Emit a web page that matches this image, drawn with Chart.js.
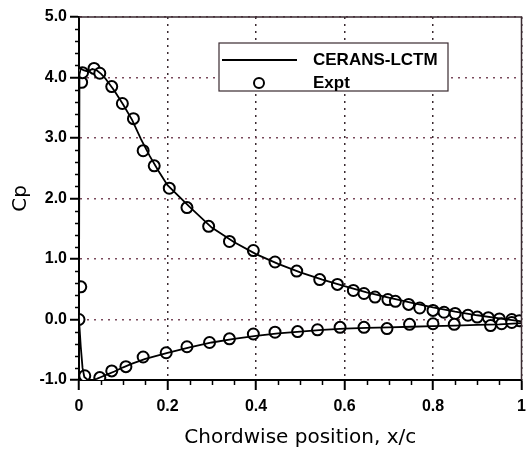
<!DOCTYPE html>
<html>
<head>
<meta charset="utf-8">
<script src="https://cdn.jsdelivr.net/npm/chart.js@4/dist/chart.umd.min.js"></script>
<style>
  html, body { margin: 0; padding: 0; background: #fff; }
</style>
</head>
<body>
<canvas id="cpChart" width="529" height="450"></canvas>
<script>
// CFD pressure coefficient, upper surface, leading edge -> trailing edge
const upperX  = [0, 0.001, 0.004, 0.01, 0.02, 0.03, 0.04, 0.05, 0.06, 0.08, 0.1, 0.12, 0.14, 0.16, 0.18, 0.2, 0.25, 0.3, 0.35, 0.4, 0.45, 0.5, 0.55, 0.6, 0.65, 0.7, 0.75, 0.8, 0.85, 0.9, 0.95, 1.0];
const upperCp = [0, 4.05, 4.15, 4.12, 4.1, 4.14, 4.12, 4.06, 3.98, 3.78, 3.55, 3.3, 2.98, 2.7, 2.45, 2.22, 1.86, 1.52, 1.28, 1.08, 0.92, 0.78, 0.66, 0.55, 0.45, 0.36, 0.28, 0.2, 0.13, 0.07, 0.02, -0.03];

// CFD pressure coefficient, lower surface, leading edge -> trailing edge
const lowerX  = [0, 0.004, 0.008, 0.012, 0.02, 0.03, 0.04, 0.05, 0.06, 0.08, 0.1, 0.12, 0.15, 0.2, 0.25, 0.3, 0.35, 0.4, 0.45, 0.5, 0.55, 0.6, 0.65, 0.7, 0.75, 0.8, 0.85, 0.9, 0.95, 1.0];
const lowerCp = [0, -0.45, -0.8, -0.95, -1.0, -1.0, -0.98, -0.95, -0.92, -0.86, -0.79, -0.73, -0.65, -0.55, -0.46, -0.38, -0.32, -0.27, -0.23, -0.2, -0.17, -0.15, -0.14, -0.13, -0.12, -0.11, -0.1, -0.09, -0.08, -0.06];

// measured taps (upper surface, then lower surface)
const exptX  = [0, 0.004, 0.006, 0.008, 0.034, 0.047, 0.074, 0.098, 0.123, 0.145, 0.17, 0.204, 0.244, 0.293, 0.34, 0.394, 0.443, 0.492, 0.544, 0.584, 0.62, 0.644, 0.669, 0.698, 0.715, 0.745, 0.77, 0.8, 0.825, 0.85, 0.879, 0.9, 0.925, 0.95, 0.978, 0.995,
                0.013, 0.047, 0.074, 0.106, 0.145, 0.197, 0.244, 0.295, 0.34, 0.394, 0.443, 0.494, 0.539, 0.59, 0.644, 0.696, 0.747, 0.8, 0.848, 0.93, 0.955, 0.978];
const exptCp = [0, 0.54, 3.92, 4.08, 4.15, 4.07, 3.85, 3.57, 3.32, 2.79, 2.54, 2.17, 1.85, 1.54, 1.29, 1.14, 0.95, 0.8, 0.66, 0.58, 0.48, 0.43, 0.37, 0.33, 0.3, 0.25, 0.19, 0.15, 0.12, 0.1, 0.07, 0.04, 0.03, 0.01, 0.0, -0.02,
                -0.93, -0.96, -0.85, -0.78, -0.62, -0.55, -0.45, -0.38, -0.32, -0.24, -0.21, -0.2, -0.17, -0.13, -0.13, -0.15, -0.08, -0.07, -0.08, -0.1, -0.07, -0.05];

const xTicks = [0, 0.2, 0.4, 0.6, 0.8, 1];
const xTickLabels = ['0', '0.2', '0.4', '0.6', '0.8', '1'];
const yTicks = [-1, 0, 1, 2, 3, 4, 5];
const yTickLabels = ['-1.0', '0.0', '1.0', '2.0', '3.0', '4.0', '5.0'];

// one contour: upper trailing edge -> leading edge -> lower trailing edge
const cfdPoints = upperX.map((x, i) => ({x, y: upperCp[i]})).reverse()
  .concat(lowerX.slice(1).map((x, i) => ({x, y: lowerCp[i + 1]})));
const exptPoints = exptX.map((x, i) => ({x, y: exptCp[i]}));

const labelFont = {family: 'Liberation Sans', weight: 'bold', size: 16};
const titleFont = {family: 'DejaVu Sans', size: 20};

// frame, minor ticks and boxed legend
const decorations = {
  id: 'decorations',
  afterDraw(chart) {
    const ctx = chart.ctx;
    const a = chart.chartArea;
    const xs = chart.scales.x, ys = chart.scales.y;
    ctx.save();

    // top and right edges of the frame
    ctx.strokeStyle = '#3a2a30';
    ctx.lineWidth = 1.5;
    ctx.beginPath();
    ctx.moveTo(a.left, a.top);
    ctx.lineTo(a.right, a.top);
    ctx.lineTo(a.right, a.bottom);
    ctx.stroke();

    // minor ticks
    ctx.strokeStyle = '#000';
    ctx.lineWidth = 1.5;
    ctx.beginPath();
    for (let v = 0.05; v < 1; v += 0.05) {
      if (Math.abs(v * 5 - Math.round(v * 5)) < 1e-6) continue;
      const px = Math.round(xs.getPixelForValue(v)) + 0.5;
      ctx.moveTo(px, a.bottom);
      ctx.lineTo(px, a.bottom + 5);
    }
    for (let v = -0.8; v < 5; v += 0.2) {
      if (Math.abs(v - Math.round(v)) < 1e-6) continue;
      const py = Math.round(ys.getPixelForValue(v)) + 0.5;
      ctx.moveTo(a.left, py);
      ctx.lineTo(a.left - 4, py);
    }
    ctx.stroke();

    // legend box
    const bx = 219, by = 43, bw = 229, bh = 48;
    ctx.fillStyle = '#fff';
    ctx.fillRect(bx, by, bw, bh);
    ctx.strokeStyle = '#3a2a30';
    ctx.lineWidth = 1.2;
    ctx.strokeRect(bx, by, bw, bh);

    const ds = chart.data.datasets;
    ctx.strokeStyle = '#000';
    ctx.lineWidth = 1.8;
    ctx.beginPath();
    ctx.moveTo(bx + 3, by + 17);
    ctx.lineTo(bx + 78, by + 17);
    ctx.stroke();

    ctx.lineWidth = 2;
    ctx.beginPath();
    ctx.arc(bx + 40, by + 40, 5, 0, Math.PI * 2);
    ctx.stroke();

    ctx.fillStyle = '#000';
    ctx.font = 'bold 17px "Liberation Sans"';
    ctx.textBaseline = 'middle';
    ctx.textAlign = 'left';
    ctx.fillText(ds[0].label, bx + 94, by + 17);
    ctx.fillText(ds[1].label, bx + 94, by + 40);
    ctx.restore();
  }
};

new Chart(document.getElementById('cpChart'), {
  type: 'scatter',
  data: {
    datasets: [{
      label: 'CERANS-LCTM',
      data: cfdPoints,
      showLine: true,
      borderColor: '#000',
      borderWidth: 1.8,
      pointRadius: 0,
      tension: 0
    }, {
      label: 'Expt',
      data: exptPoints,
      showLine: false,
      pointStyle: 'circle',
      pointRadius: 5.5,
      borderWidth: 2,
      borderColor: '#000',
      backgroundColor: '#fff'
    }]
  },
  options: {
    responsive: false,
    animation: false,
    devicePixelRatio: 1,
    layout: {padding: {top: 17, right: 3, left: 0, bottom: 0}},
    plugins: {
      legend: {display: false},
      tooltip: {enabled: false}
    },
    scales: {
      x: {
        type: 'linear',
        min: 0,
        max: 1,
        afterBuildTicks: s => { s.ticks = xTicks.map(v => ({value: v})); },
        afterFit: s => { s.height = 70; s.paddingLeft = 0; s.paddingRight = 0; },
        ticks: {
          callback: (v, i) => xTickLabels[i],
          font: labelFont,
          color: '#000',
          padding: 7,
          maxRotation: 0,
          autoSkip: false
        },
        grid: {color: '#3a2a30', lineWidth: 1.5, tickLength: 10, tickColor: '#000', tickWidth: 2},
        border: {color: '#000', width: 2, dash: [2, 5]},
        title: {display: true, text: 'Chordwise position, x/c', font: titleFont, color: '#000', padding: {top: 6, bottom: 0}}
      },
      y: {
        type: 'linear',
        min: -1,
        max: 5,
        afterBuildTicks: s => { s.ticks = yTicks.map(v => ({value: v})); },
        afterFit: s => { s.width = 79; s.paddingTop = 0; s.paddingBottom = 0; },
        ticks: {
          callback: (v, i) => yTickLabels[i],
          font: labelFont,
          color: '#000',
          padding: 3,
          autoSkip: false
        },
        grid: {color: '#7a4a5c', lineWidth: 1.5, tickLength: 9, tickColor: '#000', tickWidth: 2},
        border: {color: '#000', width: 2, dash: [2, 5]},
        title: {display: true, text: 'Cp', font: titleFont, color: '#000', padding: {top: 9, bottom: 0}}
      }
    }
  },
  plugins: [decorations]
});
</script>
</body>
</html>
